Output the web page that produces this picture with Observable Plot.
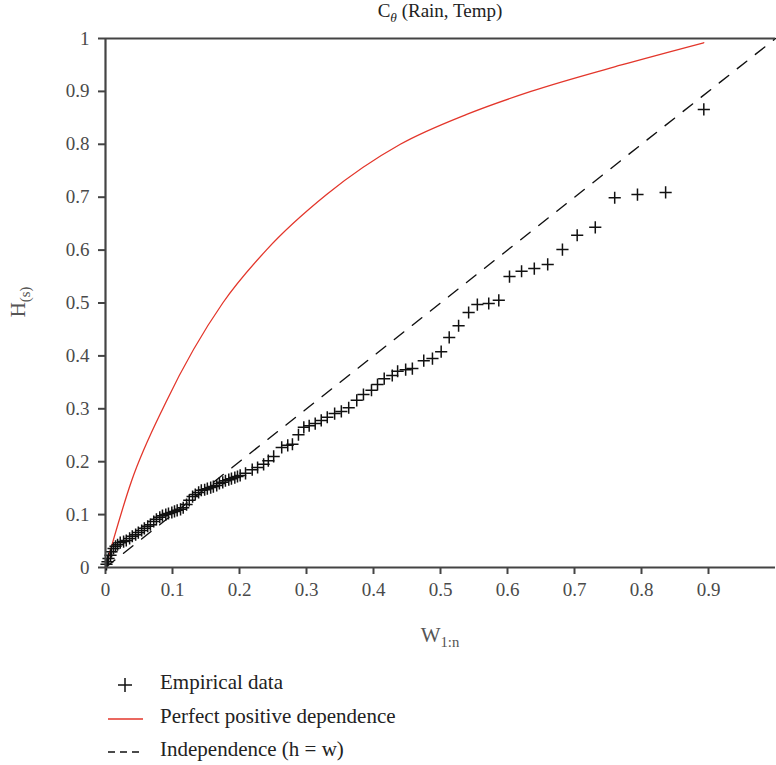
<!DOCTYPE html>
<html>
<head>
<meta charset="utf-8">
<script src="https://cdn.jsdelivr.net/npm/d3@7"></script>
<script src="https://cdn.jsdelivr.net/npm/@observablehq/plot@0.6"></script>
<style>
  body { margin: 0; background: #fff; }
  #wrap { position: relative; width: 776px; height: 765px; font-family: 'Liberation Serif', 'Times New Roman', serif; color: #3a3a3a; }
  #wrap svg text { font-family: 'Liberation Serif', 'Times New Roman', serif; }
  .abs { position: absolute; white-space: nowrap; }
  sub { font-size: 70%; }
</style>
</head>
<body>
<div id="wrap"></div>
<script>
// Empirical data (W_{1:n}, H_(s))
const empW = [0.0015,0.003,0.0045,0.0075,0.009,0.012,0.015,0.018,0.022,0.027,0.031,0.036,0.040,0.045,0.049,0.054,0.058,0.063,0.067,0.072,0.076,0.081,0.085,0.090,0.094,0.099,0.103,0.107,0.112,0.116,0.121,0.125,0.130,0.134,0.139,0.143,0.148,0.152,0.157,0.161,0.166,0.170,0.175,0.179,0.184,0.188,0.193,0.197,0.201,
  0.209,0.219,0.227,0.236,0.243,0.251,0.263,0.272,0.279,0.288,0.296,0.304,0.313,0.322,0.331,0.342,0.352,0.363,0.375,0.385,0.397,0.406,0.416,0.428,0.436,0.448,0.458,0.475,0.488,0.501,0.513,0.527,0.542,0.555,0.572,0.587,0.603,0.621,0.640,0.660,0.682,0.704,0.731,0.760,0.794,0.836,0.893];
const empH = [0.006,0.011,0.017,0.023,0.030,0.036,0.040,0.043,0.047,0.049,0.051,0.055,0.059,0.062,0.066,0.070,0.074,0.078,0.081,0.087,0.091,0.095,0.098,0.100,0.102,0.104,0.106,0.108,0.110,0.113,0.119,0.127,0.134,0.138,0.142,0.146,0.147,0.149,0.151,0.153,0.155,0.159,0.161,0.164,0.166,0.168,0.170,0.172,0.174,
  0.178,0.185,0.189,0.195,0.202,0.210,0.227,0.231,0.233,0.251,0.265,0.268,0.272,0.278,0.284,0.291,0.295,0.302,0.316,0.327,0.335,0.346,0.357,0.363,0.371,0.374,0.376,0.391,0.395,0.408,0.435,0.457,0.482,0.497,0.499,0.505,0.550,0.560,0.565,0.573,0.601,0.628,0.643,0.699,0.705,0.709,0.866];
// Perfect positive dependence curve
const perfW = [0, 0.039, 0.090, 0.175, 0.240, 0.330, 0.440, 0.540, 0.635, 0.770, 0.893];
const perfH = [0, 0.164, 0.312, 0.500, 0.600, 0.705, 0.800, 0.857, 0.900, 0.950, 0.992];
// Independence line h = w
const indepW = [0, 1];
const xTicks = [0, 0.1, 0.2, 0.3, 0.4, 0.5, 0.6, 0.7, 0.8, 0.9];
const yTicks = [0, 0.1, 0.2, 0.3, 0.4, 0.5, 0.6, 0.7, 0.8, 0.9, 1];

const emp = empW.map((w, i) => ({w, h: empH[i]}));
const perf = perfW.map((w, i) => ({w, h: perfH[i]}));
const fmt = d => String(+d.toFixed(1));
const axisColor = "#444";
const serif = "'Liberation Serif', 'Times New Roman', serif";

const chart = Plot.plot({
  width: 776, height: 765,
  marginLeft: 105, marginRight: 1, marginTop: 38, marginBottom: 198,
  style: { fontFamily: serif, fontSize: "19px", color: "#4a4a4a", background: "transparent" },
  x: { domain: [0, 1] },
  y: { domain: [0, 1] },
  marks: [
    Plot.axisX({ ticks: xTicks, tickFormat: fmt, tickSize: 7, tickPadding: 8, label: null, strokeWidth: 2, stroke: axisColor }),
    Plot.axisY({ ticks: yTicks, tickFormat: fmt, tickSize: 7, tickPadding: 9, label: null, strokeWidth: 2, stroke: axisColor }),
    Plot.line(indepW, { x: d => d, y: d => d, stroke: "#111", strokeWidth: 1.4, strokeDasharray: "12,11" }),
    Plot.line(perf, { x: "w", y: "h", stroke: "#e3362b", strokeWidth: 1.3, curve: "monotone-x" }),
    Plot.dot(emp, { x: "w", y: "h", symbol: "plus", r: 4, stroke: "#111", strokeWidth: 1.5 }),
    Plot.ruleX([0], { stroke: axisColor, strokeWidth: 2.2 }),
    Plot.ruleY([0], { stroke: axisColor, strokeWidth: 2.2 }),
    Plot.ruleY([1], { stroke: axisColor, strokeWidth: 2.2 })
  ]
});

const wrap = document.getElementById("wrap");
wrap.appendChild(chart);
chart.style.position = "absolute";
chart.style.left = "0px";
chart.style.top = "0px";

function addHTML(html, css) {
  const d = document.createElement("div");
  d.className = "abs";
  d.innerHTML = html;
  Object.assign(d.style, css);
  wrap.appendChild(d);
  return d;
}
// Title
addHTML('C<sub style="font-style:italic">θ</sub> (Rain, Temp)', { left: "440px", top: "0px", transform: "translateX(-50%)", fontSize: "19px", color: "#222" });
// Axis labels
addHTML('W<sub>1:n</sub>', { left: "440px", top: "623px", transform: "translateX(-50%)", fontSize: "21px", color: "#555" });
addHTML('H<sub>(s)</sub>', { left: "20px", top: "302px", transform: "translate(-50%,-50%) rotate(-90deg)", fontSize: "21px", color: "#555" });

// Legend
const legendItems = [
  { label: "Empirical data", sym: '<line x1="10" y1="17" x2="24" y2="17" stroke="#111" stroke-width="1.5"/><line x1="17" y1="10" x2="17" y2="24" stroke="#111" stroke-width="1.5"/>', top: 668 },
  { label: "Perfect positive dependence", sym: '<line x1="0" y1="17" x2="35" y2="17" stroke="#e3362b" stroke-width="1.5"/>', top: 702 },
  { label: "Independence (h = w)", sym: '<line x1="0" y1="17" x2="35" y2="17" stroke="#111" stroke-width="1.5" stroke-dasharray="7,5"/>', top: 735 }
];
for (const it of legendItems) {
  addHTML('<svg width="36" height="34">' + it.sym + '</svg>', { left: "108px", top: it.top + "px" });
  addHTML(it.label, { left: "160px", top: (it.top + 2) + "px", fontSize: "21px", color: "#222" });
}
</script>
</body>
</html>
